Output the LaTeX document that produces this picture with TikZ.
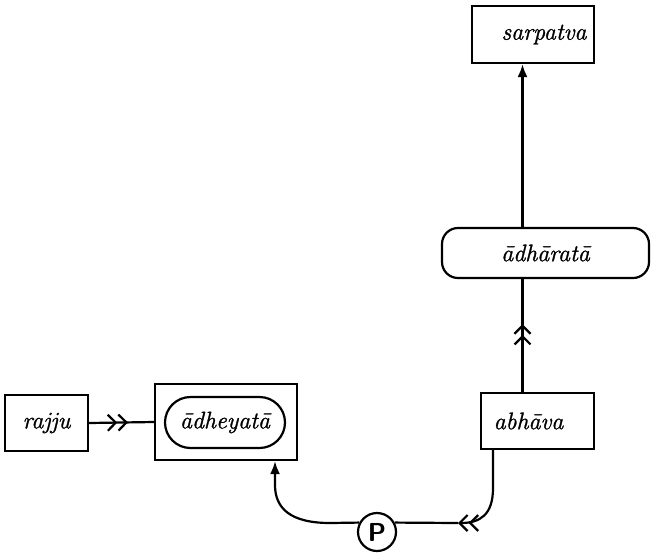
\documentclass[tikz,border=0pt]{standalone}
\usepackage{fontspec}
\setmainfont{Latin Modern Roman}[ItalicFeatures={FakeBold=1.2}]
\usetikzlibrary{arrows.meta,decorations.markings,shapes.misc}
\begin{document}
\begin{tikzpicture}[x=0.5pt,y=-0.5pt,
  every node/.style={font=\fontsize{12}{14}\selectfont\itshape},
  boxnode/.style={draw,line width=1.1pt,inner sep=0pt},
  conn/.style={line width=1.1pt},
  dbl/.style={-{Straight Barb[length=4pt,width=8pt,line width=1.1pt]Straight Barb[length=4pt,width=8pt,line width=1.1pt]}},
  sgl/.style={-{Latex[length=6.5pt,width=5pt]}},
  midbarb/.style={decoration={markings,mark=at position #1 with {\arrow{Straight Barb[length=4pt,width=8pt,line width=1.1pt]Straight Barb[length=4pt,width=8pt,line width=1.1pt]}}},postaction={decorate}}
]
\useasboundingbox (0,0) rectangle (652,552);
\node[boxnode,minimum width=41.5pt,minimum height=28pt] (rajju) at (46.5,423) {rajju};
\node[boxnode,minimum width=71pt,minimum height=38pt] (outer) at (226,422) {};
\node[draw,line width=1.1pt,rounded rectangle,inner sep=0pt,minimum width=60pt,minimum height=25.5pt] (inner) at (225,422.5) {\=adheyat\=a};
\node[boxnode,minimum width=56.5pt,minimum height=28pt] (abhava) at (537.5,421) {abh\=ava\hspace*{9pt}};
\node[draw,line width=1.1pt,rounded corners=8pt,inner sep=0pt,minimum width=103.5pt,minimum height=25pt] (adharata) at (545.5,253) {\=adh\=arat\=a};
\node[boxnode,minimum width=61pt,minimum height=28.5pt] (sarpatva) at (533,34.5) {\hspace*{11pt}sarpatva};
\node[draw,circle,line width=1.1pt,inner sep=0pt,minimum size=19pt,font=\fontsize{13}{13}\selectfont\sffamily\bfseries] (rel) at (377,532) {P};
\coordinate (vx) at (522.5,0);
\coordinate (ax) at (493,0);
\coordinate (bx) at (275,0);
\coordinate (k1) at (458,523);
% rajju -> outer
\draw[conn,midbarb=0.6] (rajju.east) -- (outer.west);
% abhava -> adharata
\draw[conn,midbarb=0.6] (abhava.north -| vx) -- (adharata.south -| vx);
% adharata -> sarpatva
\draw[conn,sgl] (adharata.north -| vx) -- (sarpatva.south -| vx);
% abhava -> bottom line
\draw[conn,dbl] (abhava.south -| ax) -- (493,488) .. controls (493,515) and (480,523) .. (k1);
\draw[conn] (k1) -- (rel.28);
% rel -> adheyata
\draw[conn,sgl] (rel.152) -- (330,523) .. controls (290,523) and (275,508) .. (275,485) -- (outer.south -| bx);
\end{tikzpicture}
\end{document}
